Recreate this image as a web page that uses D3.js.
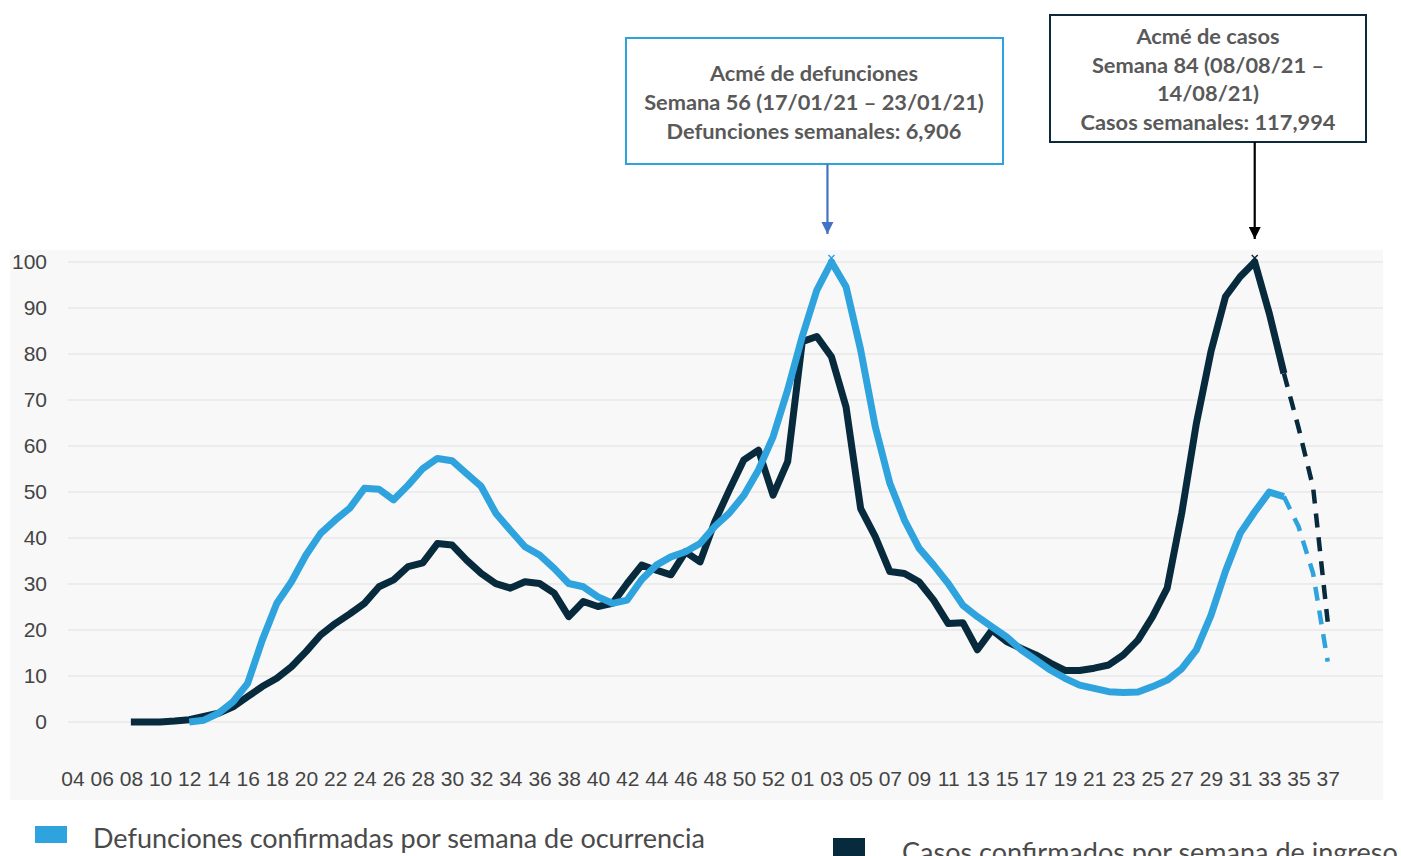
<!DOCTYPE html>
<html>
<head>
<meta charset="utf-8">
<script src="https://cdn.jsdelivr.net/npm/d3@7/dist/d3.min.js"></script>
<style>
  html, body { margin: 0; padding: 0; background: #ffffff; }
  svg { display: block; }
</style>
</head>
<body>
<svg id="chart" width="1401" height="856"></svg>
<script>
// ---------- DATA ----------
// Epidemiological weeks: 2020 weeks 04..53, then 2021 weeks 01..37
const semanas = [
  "04","05","06","07","08","09","10","11","12","13","14","15","16","17","18","19","20",
  "21","22","23","24","25","26","27","28","29","30","31","32","33","34","35","36","37",
  "38","39","40","41","42","43","44","45","46","47","48","49","50","51","52","53",
  "01","02","03","04","05","06","07","08","09","10","11","12","13","14","15","16","17",
  "18","19","20","21","22","23","24","25","26","27","28","29","30","31","32","33","34",
  "35","36","37"
];
// Tick labels shown on the x axis (every other week)
const tickLabels = [
  "04","06","08","10","12","14","16","18","20","22","24","26","28","30","32","34","36",
  "38","40","42","44","46","48","50","52",
  "01","03","05","07","09","11","13","15","17","19","21","23","25","27","29","31","33","35","37"
];
const yTicks = [0, 10, 20, 30, 40, 50, 60, 70, 80, 90, 100];

// Cases confirmed per week of admission (% of peak), from week 08/2020
const casosInicio = 4;
const casos = [
  0, 0, 0, 0.2, 0.5, 1.2, 1.9, 3.3, 5.5, 7.7, 9.5, 12, 15.3, 18.9, 21.4, 23.5,
  25.8, 29.4, 30.9, 33.8, 34.6, 38.8, 38.5, 35.2, 32.3, 30.1, 29.1, 30.5, 30.1, 28,
  22.9, 26.2, 25.1, 25.8, 30.1, 34.1, 33, 32, 37, 34.8, 43.5, 50.4, 57, 59.1, 49.3,
  56.6, 82.7, 83.8, 79.4, 68.5, 46.4, 40.3, 32.7, 32.3, 30.5, 26.5, 21.4, 21.6, 15.7,
  20, 17.5, 16, 14.6, 12.8, 11.2, 11.2, 11.7, 12.4, 14.6, 17.8, 22.9, 29.1, 45.4,
  64.9, 80.5, 92.5, 96.8, 100, 88.8, 75.8, 64, 51, 21.8
];
// Deaths confirmed per week of occurrence (% of peak), from week 12/2020
const defuncionesInicio = 8;
const defunciones = [
  0, 0.4, 1.9, 4.4, 8.4, 17.8, 25.8, 30.5, 36.3, 41, 43.9, 46.5, 50.8, 50.6, 48.3,
  51.5, 55.1, 57.3, 56.8, 54, 51.2, 45.4, 41.7, 38.1, 36.3, 33.4, 30.1, 29.4, 27.2,
  25.8, 26.5, 31, 34.1, 35.9, 37, 38.8, 42.5, 45.4, 49.3, 54.8, 62, 72.2, 83.8, 93.9,
  100, 94.6, 80.9, 64.2, 51.9, 43.9, 37.8, 34.1, 30.1, 25.4, 22.9, 20.7, 18.5, 15.7,
  13.5, 11.3, 9.5, 8, 7.3, 6.6, 6.4, 6.5, 7.7, 9.1, 11.6, 15.7, 23.2, 32.8, 41, 45.7,
  50, 49, 42.5, 32.3, 13.1
];
// Index (in semanas) from which values are provisional (dashed)
const provisionalDesde = 83;

const colorDef = "#2ea3dd";
const colorCasos = "#082a3d";

// ---------- DRAW ----------
const svg = d3.select("#chart");

const x = d3.scaleLinear().domain([0, semanas.length - 1]).range([72.5, 1327.7]);
const y = d3.scaleLinear().domain([0, 100]).range([722, 262]);

// Plot background
svg.append("rect")
  .attr("x", 10).attr("y", 250).attr("width", 1373).attr("height", 550)
  .attr("fill", "#f8f8f8");

// Gridlines
svg.append("g").selectAll("line").data(yTicks).join("line")
  .attr("x1", 68).attr("x2", 1383)
  .attr("y1", d => y(d)).attr("y2", d => y(d))
  .attr("stroke", "#e8e8e8").attr("stroke-width", 1.5);

const axisFont = "'Liberation Sans Narrow', 'Liberation Sans', Arial, sans-serif";

// Y axis
const yAxis = svg.append("g").attr("transform", "translate(50,0)")
  .call(d3.axisLeft(y).tickValues(yTicks).tickSize(0).tickPadding(3));
yAxis.select(".domain").remove();
yAxis.selectAll("text")
  .attr("font-family", axisFont)
  .attr("font-size", 21).attr("fill", "#444");

// X axis
const tickIdx = [];
{
  let j = 0;
  semanas.forEach((s, i) => { if (j < tickLabels.length && s === tickLabels[j] && i % 2 === 0) { tickIdx.push(i); j++; } });
}
const xAxis = svg.append("g").attr("transform", "translate(0,768)")
  .call(d3.axisBottom(x).tickValues(tickIdx).tickSize(0).tickPadding(3)
    .tickFormat((d, k) => tickLabels[k]));
xAxis.select(".domain").remove();
xAxis.selectAll("text")
  .attr("font-family", axisFont)
  .attr("font-size", 21).attr("fill", "#444");

// Series
function seriesPoints(vals, start) {
  return vals.map((v, k) => ({ i: start + k, v }));
}
const line = d3.line().x(d => x(d.i)).y(d => y(d.v));

function drawSeries(vals, start, color) {
  const pts = seriesPoints(vals, start);
  const solid = pts.filter(p => p.i <= provisionalDesde);
  const dashed = pts.filter(p => p.i >= provisionalDesde);
  svg.append("path").datum(solid).attr("d", line)
    .attr("fill", "none").attr("stroke", color).attr("stroke-width", 7)
    .attr("stroke-linejoin", "round").attr("stroke-linecap", "butt");
  svg.append("path").datum(dashed).attr("d", line)
    .attr("fill", "none").attr("stroke", color).attr("stroke-width", 4.5)
    .attr("stroke-dasharray", "14,10").attr("stroke-linejoin", "round");
  // peak marker
  const peak = pts.reduce((a, b) => (b.v > a.v ? b : a));
  const px = x(peak.i), py = y(peak.v) - 4;
  svg.append("path")
    .attr("d", `M${px - 3},${py - 3}L${px + 3},${py + 3}M${px - 3},${py + 3}L${px + 3},${py - 3}`)
    .attr("stroke", color).attr("stroke-width", 1.5);
}
drawSeries(casos, casosInicio, colorCasos);
drawSeries(defunciones, defuncionesInicio, colorDef);

// ---------- ANNOTATIONS ----------
const defs = svg.append("defs");
function arrowHead(id, color) {
  defs.append("marker").attr("id", id)
    .attr("viewBox", "0 0 10 10").attr("refX", 10).attr("refY", 5)
    .attr("markerWidth", 5.5).attr("markerHeight", 5.5).attr("orient", "auto")
    .attr("markerUnits", "strokeWidth")
    .append("path").attr("d", "M0,0L10,5L0,10Z").attr("fill", color);
}
arrowHead("arrBlue", "#4472c4");
arrowHead("arrDark", "#000000");

function annot(box, lines, stroke, arrow) {
  svg.append("rect").attr("x", box.x).attr("y", box.y).attr("width", box.w).attr("height", box.h)
    .attr("fill", "#fff").attr("stroke", stroke).attr("stroke-width", 2);
  const t = svg.append("text")
    .attr("font-family", "Lato, 'Open Sans', sans-serif").attr("font-weight", 700)
    .attr("font-size", 21.8).attr("fill", "#595959").attr("text-anchor", "middle");
  lines.forEach((l, k) => {
    t.append("tspan").attr("x", box.cx).attr("y", box.ty + k * box.lh).text(l);
  });
  svg.append("line").attr("x1", arrow.x).attr("x2", arrow.x)
    .attr("y1", arrow.y1).attr("y2", arrow.y2)
    .attr("stroke", arrow.color).attr("stroke-width", 2.2)
    .attr("marker-end", `url(#${arrow.marker})`);
}

const peakDefIdx = defuncionesInicio + defunciones.indexOf(d3.max(defunciones));
const peakCasIdx = casosInicio + casos.indexOf(d3.max(casos));

annot({ x: 626, y: 38, w: 377, h: 126, cx: 814, ty: 81, lh: 29 },
  ["Acmé de defunciones", "Semana 56 (17/01/21 – 23/01/21)", "Defunciones semanales: 6,906"],
  "#2ea3dd",
  { x: x(peakDefIdx) - 4, y1: 164, y2: 234, color: "#4472c4", marker: "arrBlue" });

annot({ x: 1050, y: 15, w: 316, h: 127, cx: 1208, ty: 44, lh: 28.5 },
  ["Acmé de casos", "Semana 84 (08/08/21 –", "14/08/21)", "Casos semanales: 117,994"],
  "#0d2a3a",
  { x: x(peakCasIdx), y1: 142, y2: 239, color: "#000", marker: "arrDark" });

// ---------- LEGEND ----------
svg.append("rect").attr("x", 35).attr("y", 826).attr("width", 32).attr("height", 17).attr("fill", colorDef);
svg.append("text").attr("x", 93).attr("y", 848)
  .attr("font-family", "Lato, sans-serif").attr("font-size", 27).attr("fill", "#4a4a4a")
  .text("Defunciones confirmadas por semana de ocurrencia");
svg.append("rect").attr("x", 833).attr("y", 838).attr("width", 32).attr("height", 18).attr("fill", colorCasos);
svg.append("text").attr("x", 902).attr("y", 862)
  .attr("font-family", "Lato, sans-serif").attr("font-size", 27).attr("fill", "#4a4a4a")
  .text("Casos confirmados por semana de ingreso");
</script>
</body>
</html>
